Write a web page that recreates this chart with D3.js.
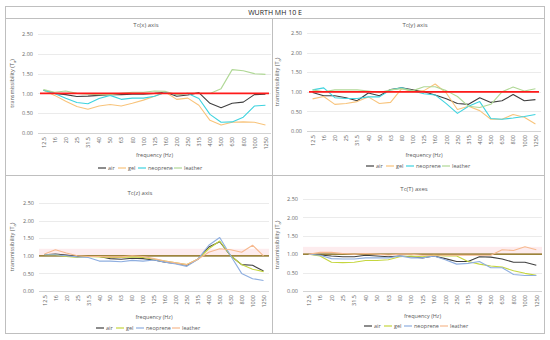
<!DOCTYPE html>
<html><head><meta charset="utf-8">
<script src="https://cdn.jsdelivr.net/npm/d3@7"></script>
<style>body{margin:0;background:#fff}svg{display:block}text{font-family:"Open Sans","Liberation Sans",sans-serif}</style>
</head><body><svg id="c" width="550" height="340"></svg>
<script>
const categories = ["12.5","16","20","25","31.5","40","50","63","80","100","125","160","200","250","315","400","500","630","800","1000","1250"];
const seriesNames = ["air","gel","neoprene","leather"];
const yTicks = [0,0.5,1,1.5,2,2.5];
const panelTitles = ["Tc(x) axis","Tc(y) axis","Tc(z) axis","Tc(T) axes"];

const tcX_air      = [1.08,1.00,0.97,0.92,0.93,0.95,0.97,0.97,0.98,0.98,1.00,1.03,0.93,0.96,1.02,0.75,0.64,0.75,0.78,0.97,0.98];
const tcX_gel      = [1.08,0.95,0.80,0.67,0.60,0.68,0.72,0.68,0.75,0.83,0.93,1.03,0.85,0.88,0.70,0.32,0.20,0.27,0.28,0.27,0.20];
const tcX_neoprene = [1.08,1.00,0.88,0.77,0.74,0.87,0.95,0.85,0.88,0.88,0.93,1.03,0.97,1.00,0.87,0.47,0.27,0.28,0.40,0.68,0.70];
const tcX_leather  = [1.10,1.03,1.06,1.00,0.98,0.97,0.97,1.00,1.03,1.03,1.06,1.05,0.97,1.00,1.00,1.00,1.12,1.60,1.57,1.50,1.48];

const tcY_air      = [0.98,0.90,0.90,0.85,0.77,0.97,0.90,1.06,1.10,1.05,1.00,0.92,0.82,0.70,0.68,0.85,0.73,0.77,0.93,0.77,0.80];
const tcY_gel      = [0.82,0.88,0.68,0.70,0.75,0.87,0.70,0.73,1.08,1.00,1.03,1.20,0.97,0.55,0.63,0.52,0.30,0.30,0.42,0.35,0.18];
const tcY_neoprene = [1.05,1.10,0.85,0.83,0.83,0.87,0.87,1.05,1.10,1.02,0.95,0.92,0.70,0.45,0.63,0.75,0.32,0.30,0.33,0.37,0.42];
const tcY_leather  = [1.05,1.00,1.05,1.05,1.05,1.02,0.98,1.05,1.08,1.03,1.13,1.13,1.03,0.88,0.63,0.60,0.68,1.00,1.12,1.02,1.08];

const tcZ_air      = [1.03,1.05,1.02,0.98,0.98,0.98,0.92,0.90,0.93,0.92,0.88,0.82,0.78,0.73,0.90,1.25,1.40,1.00,0.75,0.73,0.57];
const tcZ_gel      = [1.03,1.03,0.98,0.95,0.98,0.97,0.95,0.95,0.97,0.95,0.90,0.85,0.80,0.75,0.90,1.20,1.42,1.00,0.75,0.62,0.55];
const tcZ_neoprene = [1.03,1.03,1.00,0.97,0.95,0.85,0.85,0.83,0.87,0.85,0.88,0.82,0.77,0.70,0.90,1.30,1.52,1.00,0.50,0.35,0.30];
const tcZ_leather  = [1.05,1.17,1.08,1.00,0.98,0.98,0.97,0.97,1.00,0.98,0.92,0.85,0.80,0.75,0.90,1.10,1.20,1.17,1.10,1.30,1.00];

const tcT_air      = [1.00,0.98,0.95,0.93,0.93,0.97,0.95,0.93,0.95,0.93,0.90,0.95,0.88,0.80,0.80,0.93,0.92,0.87,0.78,0.78,0.70];
const tcT_gel      = [1.00,0.95,0.78,0.77,0.78,0.83,0.83,0.85,0.93,0.95,0.93,0.97,0.95,0.95,0.80,0.73,0.68,0.65,0.55,0.48,0.43];
const tcT_neoprene = [1.00,0.97,0.88,0.87,0.87,0.90,0.90,0.90,0.95,0.90,0.90,0.95,0.85,0.73,0.75,0.80,0.63,0.63,0.45,0.42,0.42];
const tcT_leather  = [1.00,1.05,1.05,1.02,1.00,1.02,1.00,0.98,1.00,1.00,0.97,0.97,0.97,0.97,0.97,0.97,0.97,1.12,1.10,1.20,1.12];

const panelData = [
  [tcX_air,tcX_gel,tcX_neoprene,tcX_leather],
  [tcY_air,tcY_gel,tcY_neoprene,tcY_leather],
  [tcZ_air,tcZ_gel,tcZ_neoprene,tcZ_leather],
  [tcT_air,tcT_gel,tcT_neoprene,tcT_leather]
];

const topColors = ["#404040","#f8c47c","#3ed3df","#b0d896"];
const botColors = ["#404040","#c5d63e","#8eaee0","#f6b98f"];

const layout = [
  {x0:38, x1:271, y0:133, y1:34, title:[146,25], xt:155, lg:168, lgx:150, yl:14, bottom:false},
  {x0:307, x1:541, y0:131, y1:33, title:[415,25], xt:155, lg:166, lgx:418, yl:279, bottom:false},
  {x0:39, x1:269, y0:291, y1:203, title:[140,193], xt:317, lg:328, lgx:148, yl:14, bottom:true},
  {x0:303, x1:542, y0:291, y1:199, title:[414,189], xt:316, lg:326, lgx:416, yl:279, bottom:true}
];

const svg = d3.select("#c");
svg.append("rect").attr("x",5.5).attr("y",6.5).attr("width",539).attr("height",327).attr("fill","none").attr("stroke","#bfbfbf");
svg.append("line").attr("x1",5.5).attr("x2",544.5).attr("y1",18.5).attr("y2",18.5).attr("stroke","#bfbfbf");
svg.append("line").attr("x1",5.5).attr("x2",544.5).attr("y1",175.5).attr("y2",175.5).attr("stroke","#bfbfbf");
svg.append("line").attr("x1",272.5).attr("x2",272.5).attr("y1",18.5).attr("y2",333.5).attr("stroke","#bfbfbf");
svg.append("text").attr("x",275).attr("y",15).attr("text-anchor","middle").attr("font-size",7).attr("fill","#222").text("WURTH MH 10 E");

layout.forEach((L,pi)=>{
  const g = svg.append("g");
  const x = d3.scalePoint().domain(categories).range([L.x0,L.x1]).padding(0.5);
  const y = d3.scaleLinear().domain([0,2.5]).range([L.y0,L.y1]);
  const colors = L.bottom ? botColors : topColors;
  g.selectAll(".gl").data(yTicks).join("line")
    .attr("x1",L.x0).attr("x2",L.x1).attr("y1",d=>Math.round(y(d))+0.5).attr("y2",d=>Math.round(y(d))+0.5)
    .attr("stroke",d=>d===0?"#c8c8c8":"#e6e6e6").attr("stroke-width",0.8);
  const ya = d3.axisLeft(y).tickValues(yTicks).tickFormat(d3.format(".2f")).tickSize(0).tickPadding(5);
  const yg = g.append("g").attr("transform",`translate(${L.x0},0)`).call(ya);
  yg.select(".domain").remove();
  yg.selectAll("text").attr("font-size",5.5).attr("fill","#666").attr("font-family","'Open Sans',sans-serif");
  const xa = d3.axisBottom(x).tickSize(0).tickPadding(0);
  const xg = g.append("g").attr("transform",`translate(0,${L.y0+4})`).call(xa);
  xg.select(".domain").remove();
  xg.selectAll("text").attr("font-size",5.5).attr("fill","#666").attr("font-family","'Open Sans',sans-serif")
    .attr("transform","rotate(-90)").attr("text-anchor","end").attr("dy","0.32em").attr("x",0).attr("y",0);
  if (L.bottom) {
    g.append("rect").attr("x",L.x0).attr("width",L.x1-L.x0).attr("y",y(1.2)).attr("height",y(1)-y(1.2)).attr("fill","#fdecee");
    g.append("line").attr("x1",L.x0).attr("x2",L.x1).attr("y1",y(1)).attr("y2",y(1)).attr("stroke","#7f6000").attr("stroke-width",1.3);
  }
  const line = d3.line().x((d,i)=>x(categories[i])).y(d=>y(d));
  panelData[pi].forEach((vals,si)=>{
    g.append("path").attr("d",line(vals)).attr("fill","none").attr("stroke",colors[si]).attr("stroke-width",1.1).attr("stroke-linejoin","round");
  });
  if (!L.bottom) {
    g.append("line").attr("x1",L.x0+2).attr("x2",L.x1-2).attr("y1",y(1)).attr("y2",y(1)).attr("stroke","#ff1a1a").attr("stroke-width",1.8);
  }
  g.append("text").attr("x",L.title[0]).attr("y",L.title[1]+2).attr("text-anchor","middle").attr("font-size",6).attr("fill","#595959").text(panelTitles[pi]);
  g.append("text").attr("x",(L.x0+L.x1)/2).attr("y",L.xt+2).attr("text-anchor","middle").attr("font-size",5.5).attr("fill","#595959").text("frequency (Hz)");
  const yt = g.append("text").attr("transform",`translate(${L.yl},${(L.y0+L.y1)/2}) rotate(-90)`).attr("text-anchor","middle").attr("font-size",5.5).attr("fill","#595959");
  yt.append("tspan").text("transmissibility (T");
  yt.append("tspan").attr("font-size",4).attr("dy",1.5).text("a");
  yt.append("tspan").attr("dy",-1.5).text(")");
  const widths = [20,20,36,28];
  const total = d3.sum(widths);
  let cx = L.lgx - total/2;
  seriesNames.forEach((n,si)=>{
    g.append("line").attr("x1",cx).attr("x2",cx+8).attr("y1",L.lg).attr("y2",L.lg).attr("stroke",colors[si]).attr("stroke-width",1.2);
    g.append("text").attr("x",cx+10).attr("y",L.lg+2).attr("font-size",5.5).attr("fill","#595959").text(n);
    cx += widths[si];
  });
});
</script></body></html>
